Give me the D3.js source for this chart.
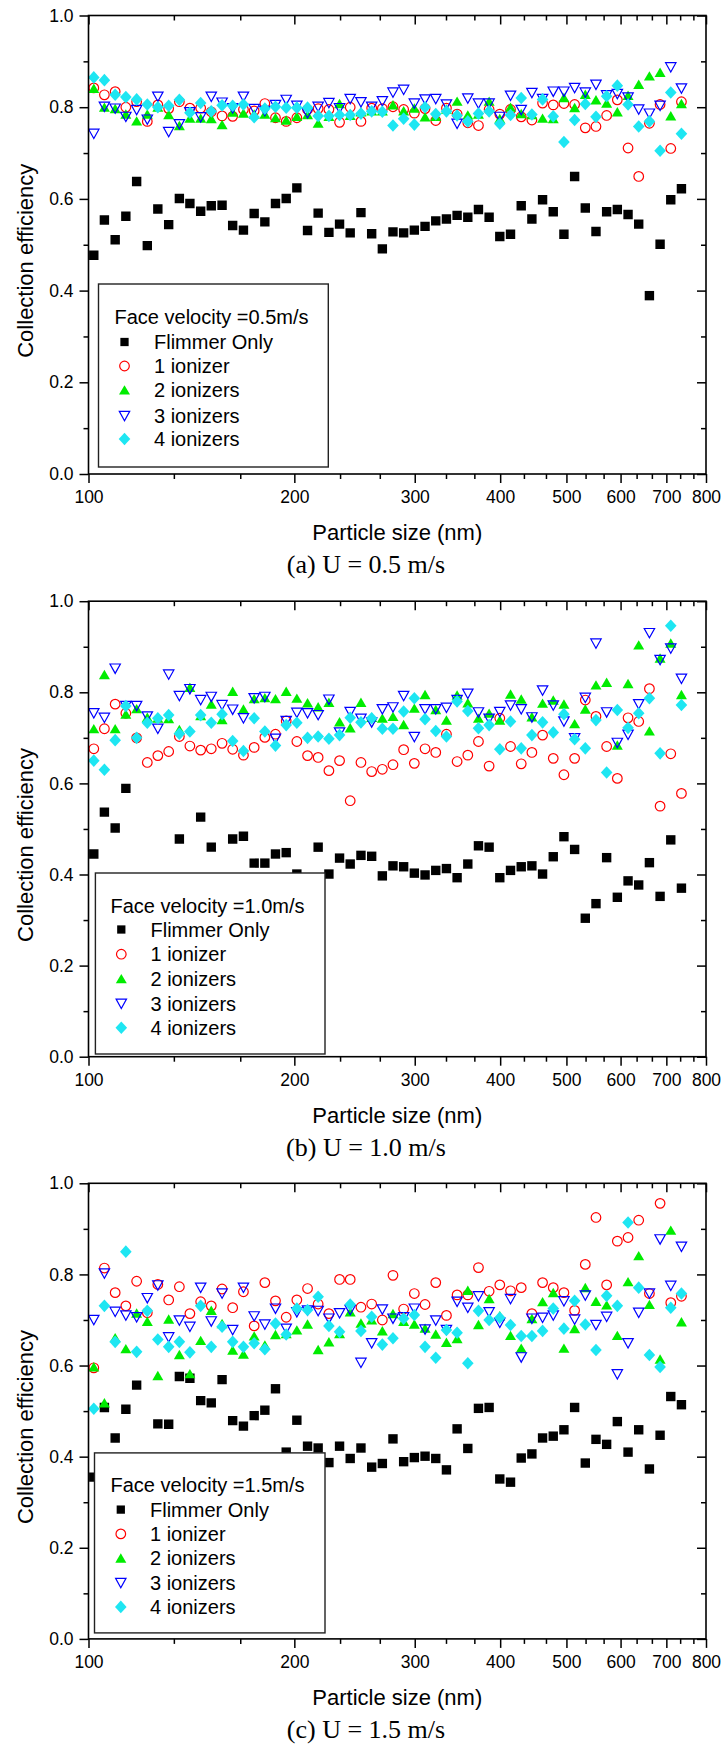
<!DOCTYPE html>
<html>
<head>
<meta charset="utf-8">
<script src="https://cdn.jsdelivr.net/npm/d3@7"></script>
<style>
  body { margin: 0; background: #fff; }
</style>
</head>
<body>
<div id="chart-area"></div>
<script>
// particle size channels (nm); first one sits just left of the axis and gets clipped
const sizes = [98.2, 101.8, 105.5, 109.4, 113.4, 117.6, 121.9, 126.3, 131.0, 135.8, 140.7, 145.9, 151.2, 156.8,
  162.5, 168.5, 174.7, 181.1, 187.7, 194.6, 201.7, 209.1, 216.7, 224.7, 232.9, 241.4, 250.3, 259.5, 269.0,
  278.8, 289.0, 299.6, 310.6, 322.0, 333.8, 346.0, 358.7, 371.8, 385.4, 399.5, 414.2, 429.4, 445.1, 461.4,
  478.3, 495.8, 514.0, 532.8, 552.3, 572.5, 593.5, 615.3, 637.8, 661.2, 685.4, 710.5, 736.5]

const seriesNames = ["Flimmer Only", "1 ionizer", "2 ionizers", "3 ionizers", "4 ionizers"]
const velocities = ["0.5", "1.0", "1.5"]
const captions = ["(a) U = 0.5 m/s", "(b) U = 1.0 m/s", "(c) U = 1.5 m/s"]
const xTicks = [100, 200, 300, 400, 500, 600, 700, 800]
const xMinor = [133.3, 166.7, 233.3, 266.7, 333.3, 366.7, 433.3, 466.7, 533.3, 566.7, 633.3, 666.7, 733.3, 766.7]
const yTicks = [0, 0.2, 0.4, 0.6, 0.8, 1.0]
const yMinor = [0.1, 0.3, 0.5, 0.7, 0.9]

// (a) U = 0.5 m/s
const flimmerA = [null, 0.477, 0.554, 0.511, 0.562, 0.638, 0.498, 0.578, 0.544, 0.601, 0.590, 0.573, 0.585, 0.586, 0.542,
  0.532, 0.568, 0.550, 0.590, 0.601, 0.624, 0.531, 0.569, 0.527, 0.545, 0.526, 0.570, 0.524, 0.491, 0.528, 0.526,
  0.532, 0.540, 0.552, 0.556, 0.564, 0.560, 0.577, 0.560, 0.518, 0.523, 0.585, 0.556, 0.598, 0.572, 0.523, 0.649,
  0.580, 0.529, 0.572, 0.577, 0.566, 0.545, 0.389, 0.501, 0.598, 0.622]
const ion1A = [null, 0.842, 0.827, 0.834, 0.800, 0.812, 0.769, 0.805, 0.797, 0.812, 0.798, 0.798, 0.790, 0.781, 0.780,
  0.795, 0.792, 0.808, 0.777, 0.769, 0.777, 0.795, 0.797, 0.795, 0.767, 0.800, 0.769, 0.798, 0.797, 0.801, 0.795,
  0.787, 0.797, 0.771, 0.798, 0.785, 0.766, 0.760, 0.795, 0.785, 0.795, 0.779, 0.772, 0.809, 0.805, 0.808, 0.806,
  0.755, 0.758, 0.782, 0.816, 0.711, 0.649, 0.765, 0.806, 0.710, 0.812]
const ion2A = [null, 0.841, 0.800, 0.797, 0.785, 0.770, 0.785, 0.800, 0.784, 0.760, 0.776, 0.776, 0.775, 0.762, 0.789,
  0.787, 0.785, 0.785, 0.777, 0.772, 0.780, 0.784, 0.765, 0.780, 0.808, 0.782, 0.790, 0.792, 0.792, 0.805, 0.792,
  0.798, 0.779, 0.780, 0.796, 0.813, 0.783, 0.785, 0.813, 0.775, 0.800, 0.786, 0.784, 0.776, 0.775, 0.821, 0.799,
  0.828, 0.816, 0.809, 0.790, 0.826, 0.850, 0.868, 0.876, 0.781, 0.808]
const ion3A = [null, 0.742, 0.801, 0.797, 0.779, 0.794, 0.773, 0.823, 0.746, 0.763, 0.789, 0.778, 0.823, 0.810, 0.798,
  0.823, 0.796, 0.792, 0.805, 0.816, 0.803, 0.787, 0.801, 0.809, 0.798, 0.818, 0.811, 0.801, 0.813, 0.832, 0.838,
  0.808, 0.817, 0.818, 0.806, 0.764, 0.819, 0.808, 0.808, 0.779, 0.825, 0.794, 0.831, 0.818, 0.834, 0.834, 0.842,
  0.832, 0.849, 0.826, 0.829, 0.821, 0.795, 0.786, 0.803, 0.887, 0.841]
const ion4A = [0.800, 0.865, 0.859, 0.827, 0.822, 0.817, 0.806, 0.800, 0.803, 0.816, 0.788, 0.809, 0.791, 0.804, 0.803,
  0.806, 0.778, 0.797, 0.801, 0.799, 0.799, 0.799, 0.781, 0.781, 0.783, 0.783, 0.786, 0.791, 0.790, 0.760, 0.775,
  0.762, 0.800, 0.785, 0.791, 0.782, 0.769, 0.786, 0.791, 0.764, 0.783, 0.820, 0.784, 0.817, 0.780, 0.724, 0.772,
  0.807, 0.779, 0.824, 0.847, 0.806, 0.758, 0.769, 0.705, 0.832, 0.742]

// (b) U = 1.0 m/s
const flimmerB = [null, 0.445, 0.537, 0.502, 0.589, 0.38, 0.37, 0.39, 0.38, 0.478, 0.39, 0.526, 0.460, 0.39, 0.478,
  0.484, 0.425, 0.425, 0.445, 0.448, 0.401, 0.38, 0.460, 0.401, 0.436, 0.423, 0.442, 0.440, 0.397, 0.419, 0.417,
  0.403, 0.399, 0.409, 0.413, 0.393, 0.423, 0.463, 0.460, 0.393, 0.409, 0.417, 0.419, 0.401, 0.439, 0.483, 0.455,
  0.304, 0.336, 0.437, 0.350, 0.386, 0.377, 0.426, 0.352, 0.476, 0.370]
const ion1B = [null, 0.676, 0.720, 0.774, 0.754, 0.700, 0.646, 0.661, 0.670, 0.703, 0.682, 0.673, 0.676, 0.688, 0.675,
  0.662, 0.679, 0.701, 0.708, 0.737, 0.692, 0.661, 0.657, 0.628, 0.650, 0.562, 0.646, 0.626, 0.631, 0.641, 0.674,
  0.644, 0.676, 0.668, 0.708, 0.648, 0.662, 0.692, 0.638, 0.743, 0.681, 0.643, 0.668, 0.706, 0.655, 0.619, 0.655,
  0.783, 0.747, 0.681, 0.611, 0.744, 0.736, 0.808, 0.550, 0.665, 0.578]
const ion2B = [0.823, 0.720, 0.839, 0.720, 0.752, 0.764, 0.745, 0.743, 0.742, 0.718, 0.811, 0.749, 0.774, 0.740, 0.802,
  0.763, 0.786, 0.788, 0.786, 0.802, 0.787, 0.777, 0.768, 0.778, 0.735, 0.722, 0.778, 0.745, 0.743, 0.747, 0.729,
  0.765, 0.795, 0.762, 0.739, 0.794, 0.777, 0.743, 0.754, 0.739, 0.796, 0.785, 0.746, 0.776, 0.783, 0.774, 0.731,
  0.763, 0.816, 0.822, 0.684, 0.819, 0.904, 0.715, 0.875, 0.908, 0.795]
const ion3B = [null, 0.754, 0.744, 0.852, 0.770, 0.770, 0.747, 0.720, 0.839, 0.792, 0.807, 0.783, 0.790, 0.772, 0.762,
  0.743, 0.787, 0.790, 0.698, 0.737, 0.755, 0.754, 0.750, 0.784, 0.712, 0.757, 0.742, 0.734, 0.763, 0.767, 0.792,
  0.702, 0.763, 0.763, 0.766, 0.783, 0.797, 0.756, 0.742, 0.757, 0.771, 0.763, 0.745, 0.804, 0.771, 0.736, 0.699,
  0.788, 0.907, 0.756, 0.689, 0.707, 0.774, 0.930, 0.871, 0.896, 0.830]
const ion4B = [0.734, 0.650, 0.630, 0.695, 0.770, 0.700, 0.733, 0.743, 0.750, 0.709, 0.714, 0.750, 0.733, 0.752, 0.693,
  0.671, 0.743, 0.714, 0.683, 0.728, 0.733, 0.700, 0.703, 0.698, 0.706, 0.744, 0.734, 0.743, 0.720, 0.720, 0.758,
  0.787, 0.741, 0.715, 0.703, 0.780, 0.759, 0.721, 0.728, 0.675, 0.736, 0.677, 0.706, 0.734, 0.712, 0.752, 0.697,
  0.677, 0.739, 0.624, 0.761, 0.722, 0.754, 0.787, 0.666, 0.946, 0.772]

// (c) U = 1.5 m/s
const flimmerC = [null, 0.355, 0.508, 0.441, 0.504, 0.557, 0.39, 0.472, 0.471, 0.576, 0.572, 0.523, 0.518, 0.569, 0.479,
  0.467, 0.490, 0.502, 0.549, 0.410, 0.480, 0.423, 0.419, 0.387, 0.423, 0.396, 0.419, 0.377, 0.385, 0.439, 0.389,
  0.398, 0.401, 0.396, 0.371, 0.461, 0.418, 0.506, 0.508, 0.351, 0.344, 0.397, 0.406, 0.441, 0.445, 0.459, 0.508,
  0.386, 0.438, 0.427, 0.477, 0.410, 0.459, 0.373, 0.447, 0.532, 0.514]
const ion1C = [null, 0.595, 0.814, 0.760, 0.731, 0.785, 0.716, 0.778, 0.744, 0.773, 0.714, 0.740, 0.731, 0.768, 0.727,
  0.762, 0.687, 0.782, 0.742, 0.706, 0.744, 0.769, 0.735, 0.714, 0.789, 0.789, 0.728, 0.735, 0.700, 0.798, 0.724,
  0.758, 0.734, 0.782, 0.710, 0.755, 0.755, 0.815, 0.763, 0.777, 0.764, 0.771, 0.714, 0.782, 0.771, 0.760, 0.721,
  0.822, 0.925, 0.777, 0.873, 0.881, 0.919, 0.758, 0.956, 0.738, 0.752]
const ion2C = [0.199, 0.597, 0.518, 0.661, 0.637, 0.715, 0.697, 0.578, 0.702, 0.624, 0.582, 0.655, 0.721, 0.692, 0.634,
  0.625, 0.665, 0.645, 0.668, 0.670, 0.678, 0.691, 0.635, 0.652, 0.670, 0.718, 0.693, 0.700, 0.676, 0.714, 0.697,
  0.691, 0.682, 0.669, 0.651, 0.659, 0.765, 0.690, 0.747, 0.709, 0.666, 0.638, 0.703, 0.740, 0.760, 0.638, 0.681,
  0.771, 0.741, 0.733, 0.666, 0.784, 0.841, 0.734, 0.614, 0.897, 0.696]
const ion3C = [null, 0.700, 0.802, 0.718, 0.710, 0.706, 0.748, 0.776, 0.662, 0.699, 0.685, 0.771, 0.697, 0.758, 0.678,
  0.771, 0.708, 0.690, 0.725, 0.681, 0.717, 0.721, 0.720, 0.703, 0.715, 0.722, 0.606, 0.649, 0.723, 0.703, 0.706,
  0.725, 0.679, 0.699, 0.678, 0.740, 0.727, 0.752, 0.717, 0.694, 0.746, 0.618, 0.703, 0.705, 0.710, 0.741, 0.701,
  0.754, 0.689, 0.707, 0.581, 0.649, 0.716, 0.758, 0.877, 0.775, 0.861]
const ion4C = [0.674, 0.505, 0.731, 0.652, 0.850, 0.630, 0.720, 0.657, 0.641, 0.652, 0.629, 0.731, 0.641, 0.685, 0.652,
  0.641, 0.649, 0.636, 0.692, 0.668, 0.725, 0.722, 0.751, 0.687, 0.674, 0.734, 0.676, 0.707, 0.646, 0.660, 0.703,
  0.711, 0.641, 0.617, 0.678, 0.672, 0.605, 0.720, 0.700, 0.705, 0.689, 0.665, 0.665, 0.676, 0.725, 0.681, 0.742,
  0.690, 0.634, 0.753, 0.731, 0.914, 0.771, 0.623, 0.597, 0.727, 0.758]

const panelSeries = [
  [flimmerA, ion1A, ion2A, ion3A, ion4A],
  [flimmerB, ion1B, ion2B, ion3B, ion4B],
  [flimmerC, ion1C, ion2C, ion3C, ion4C]
]

// layout
const WIDTH = 723
const HEIGHT = 1745
const LEFT = 88.5, RIGHT = 706
const PANELS = [
  {top: 15.5, bottom: 474, box: [98.5, 328.3, -190, -7], title: [114.5, -157], rows: [-132, -108, -84, -58, -35], sym: 124.5, txt: 154},
  {top: 601.2, bottom: 1056.7, box: [95.4, 325, -183.7, -2.7], title: [110.5, -151.2], rows: [-127.2, -102.5, -78, -53, -29], sym: 121.3, txt: 150.5},
  {top: 1183.3, bottom: 1638.9, box: [94.5, 325, -186, -6], title: [110.5, -153.6], rows: [-129.3, -105, -80.8, -56, -32], sym: 120.8, txt: 150}
]
const SANS = "'Liberation Sans', Arial, Helvetica, sans-serif"
const SERIF = "'Liberation Serif', 'Times New Roman', serif"

const STYLES = [
  {shape: "square", fill: "#000", stroke: "none"},
  {shape: "circle", fill: "none", stroke: "#ff0000"},
  {shape: "up", fill: "#00ec00", stroke: "none"},
  {shape: "down", fill: "none", stroke: "#0000ff"},
  {shape: "diamond", fill: "#1ee6f2", stroke: "none"}
]

function markerPath(shape, k) {
  k = k || 1
  if (shape === "square") { const h = 4.7 * k; return `M${-h},${-h}h${2 * h}v${2 * h}h${-2 * h}Z` }
  if (shape === "up") return `M0,${-4.8 * k}L${5.5 * k},${4.6 * k}L${-5.5 * k},${4.6 * k}Z`
  if (shape === "down") return `M${-5.2 * k},${-4.6 * k}L${5.2 * k},${-4.6 * k}L0,${4.8 * k}Z`
  if (shape === "diamond") return `M0,${-6.3 * k}L${5.8 * k},0L0,${6.3 * k}L${-5.8 * k},0Z`
  const r = 4.8 * k
  return `M${r},0A${r},${r} 0 1,1 ${-r},0A${r},${r} 0 1,1 ${r},0Z`
}

const svg = d3.select("#chart-area").append("svg")
  .attr("width", WIDTH)
  .attr("height", HEIGHT)
  .style("display", "block")

const x = d3.scaleLog().domain([100, 800]).range([LEFT, RIGHT])

PANELS.forEach((p, pi) => {
  const y = d3.scaleLinear().domain([0, 1]).range([p.bottom, p.top])
  const g = svg.append("g")

  // clip so the 98 nm channel is cut at the axis
  g.append("clipPath").attr("id", "clip" + pi)
    .append("rect")
    .attr("x", LEFT).attr("y", p.top)
    .attr("width", RIGHT - LEFT).attr("height", p.bottom - p.top)

  // points, drawn series by series (cyan ends on top)
  const pts = g.append("g").attr("clip-path", `url(#clip${pi})`)
  panelSeries[pi].forEach((vals, si) => {
    const st = STYLES[si]
    const data = vals.map((v, i) => ({size: sizes[i], v: v})).filter(d => d.v !== null)
    pts.selectAll(".s" + si).data(data).enter().append("path")
      .attr("class", "s" + si)
      .attr("d", markerPath(st.shape))
      .attr("transform", d => `translate(${x(d.size)},${y(d.v)})`)
      .attr("fill", st.fill)
      .attr("stroke", st.stroke)
      .attr("stroke-width", 1.2)
  })

  // axes: outside ticks bottom/left, inside ticks top/right
  const styleAxis = sel => {
    sel.select(".domain").remove()
    sel.selectAll("line").attr("stroke", "#000").attr("stroke-width", 1.5)
    sel.selectAll("text").attr("font-family", SANS).attr("font-size", "17.5px").attr("fill", "#000")
  }
  g.append("g").attr("transform", `translate(0,${p.bottom})`)
    .call(d3.axisBottom(x).tickValues(xTicks).tickFormat(d3.format("d")).tickSize(9).tickPadding(8))
    .call(styleAxis)
  g.append("g").attr("transform", `translate(0,${p.bottom})`)
    .call(d3.axisBottom(x).tickValues(xMinor).tickFormat("").tickSize(5))
    .call(styleAxis)
  g.append("g").attr("transform", `translate(0,${p.top})`)
    .call(d3.axisTop(x).tickValues(xTicks).tickFormat("").tickSize(-9))
    .call(styleAxis)
  g.append("g").attr("transform", `translate(0,${p.top})`)
    .call(d3.axisTop(x).tickValues(xMinor).tickFormat("").tickSize(-5))
    .call(styleAxis)
  g.append("g").attr("transform", `translate(${LEFT},0)`)
    .call(d3.axisLeft(y).tickValues(yTicks).tickFormat(d3.format(".1f")).tickSize(9).tickPadding(6))
    .call(styleAxis)
  g.append("g").attr("transform", `translate(${LEFT},0)`)
    .call(d3.axisLeft(y).tickValues(yMinor).tickFormat("").tickSize(5))
    .call(styleAxis)
  g.append("g").attr("transform", `translate(${RIGHT},0)`)
    .call(d3.axisRight(y).tickValues(yTicks).tickFormat("").tickSize(-9))
    .call(styleAxis)
  g.append("g").attr("transform", `translate(${RIGHT},0)`)
    .call(d3.axisRight(y).tickValues(yMinor).tickFormat("").tickSize(-5))
    .call(styleAxis)

  // frame
  g.append("rect")
    .attr("x", LEFT).attr("y", p.top)
    .attr("width", RIGHT - LEFT).attr("height", p.bottom - p.top)
    .attr("fill", "none").attr("stroke", "#000").attr("stroke-width", 1.6)

  // axis titles
  g.append("text")
    .attr("x", (LEFT + RIGHT) / 2)
    .attr("y", p.bottom + 66)
    .attr("text-anchor", "middle")
    .attr("font-family", SANS).attr("font-size", "22px")
    .text("Particle size (nm)")

  g.append("text")
    .attr("transform", `translate(33,${(p.top + p.bottom) / 2 + 16}) rotate(-90)`)
    .attr("text-anchor", "middle")
    .attr("font-family", SANS).attr("font-size", "22px")
    .text("Collection efficiency")

  // caption
  g.append("text")
    .attr("x", 366)
    .attr("y", p.bottom + 99)
    .attr("text-anchor", "middle")
    .attr("font-family", SERIF).attr("font-size", "26px")
    .text(captions[pi])

  // legend (opaque, covers points beneath)
  const lg = g.append("g")
  lg.append("rect")
    .attr("x", p.box[0]).attr("y", p.bottom + p.box[2])
    .attr("width", p.box[1] - p.box[0]).attr("height", p.box[3] - p.box[2])
    .attr("fill", "#fff").attr("stroke", "#222").attr("stroke-width", 1.4)
  lg.append("text")
    .attr("x", p.title[0]).attr("y", p.bottom + p.title[1] + 7)
    .attr("font-family", SANS).attr("font-size", "20px")
    .text(`Face velocity =${velocities[pi]}m/s`)
  seriesNames.forEach((name, si) => {
    const st = STYLES[si]
    const cy = p.bottom + p.rows[si]
    lg.append("path")
      .attr("d", markerPath(st.shape, si === 0 ? 0.88 : 1))
      .attr("transform", `translate(${p.sym},${cy})`)
      .attr("fill", st.fill).attr("stroke", st.stroke).attr("stroke-width", 1.2)
    lg.append("text")
      .attr("x", p.txt).attr("y", cy + 7)
      .attr("font-family", SANS).attr("font-size", "20px")
      .text(name)
  })
})
</script>
</body>
</html>
